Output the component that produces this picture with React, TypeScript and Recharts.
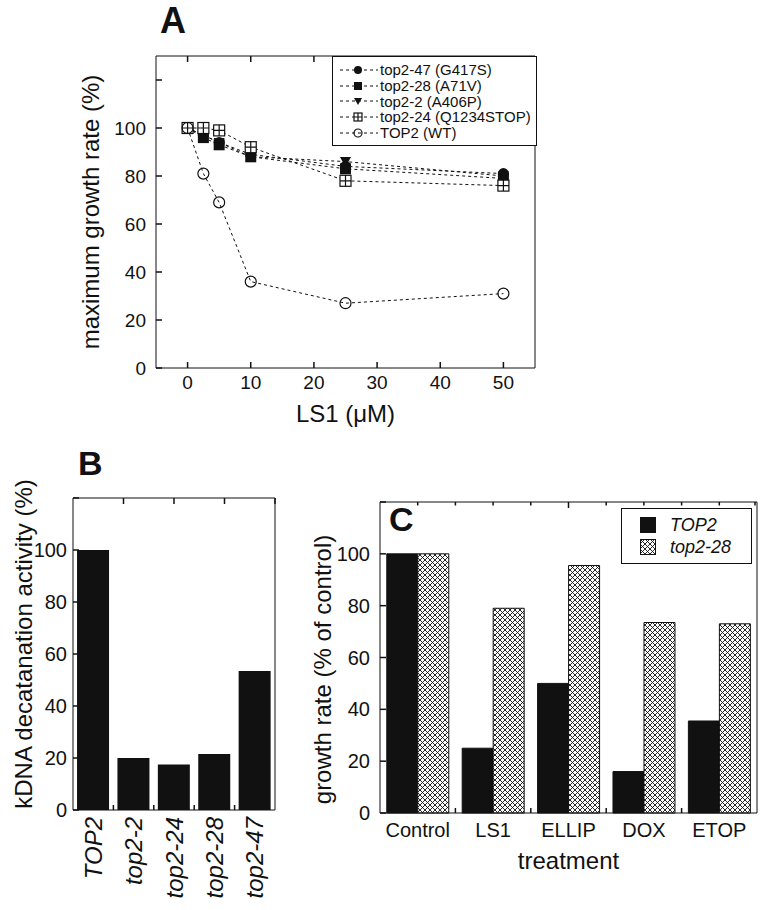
import React from 'react';
import { LineChart, Line, BarChart, Bar, XAxis, YAxis, Legend } from 'recharts';

const FONT = '"Liberation Sans", Arial, sans-serif';
const INK = '#111';

// panel A: growth vs LS1 concentration
const concentrations = [0, 2.5, 5, 10, 25, 50];
const top2_47 = [100, 97, 94, 89, 84, 81];
const top2_28 = [100, 96, 93, 88, 83, 79];
const top2_2 = [100, 97, 94, 88, 86, 80];
const top2_24 = [100, 100, 99, 92, 78, 76];
const top2_wt = [100, 81, 69, 36, 27, 31];
const concTicks = [0, 10, 20, 30, 40, 50];
const rateTicks = [0, 20, 40, 60, 80, 100, 120];

// panel B: decatenation activity
const strains = ['TOP2', 'top2-2', 'top2-24', 'top2-28', 'top2-47'];
const decatenation = [100, 20, 17.5, 21.5, 53.5];

// panel C: growth under drug treatment
const treatments = ['Control', 'LS1', 'ELLIP', 'DOX', 'ETOP'];
const growthTop2 = [100, 25, 50, 16, 35.5];
const growthTop2_28 = [100, 79, 95.5, 73.5, 73];
const percentTicks = [0, 20, 40, 60, 80, 100, 120];

// tick positions on the top frame of the bar panels (category boundaries / fifths)
const strainEdges = strains.slice(1).map((_, i) => i + 1);
const treatmentFifths = Array.from({ length: treatments.length * 5 - 1 }, (_, i) => (i + 1) / 5);

const dataA = concentrations.map((c, i) => ({
  conc: c,
  m47: top2_47[i],
  m28: top2_28[i],
  m2: top2_2[i],
  m24: top2_24[i],
  wt: top2_wt[i],
}));
const dataB = strains.map((s, i) => ({ strain: s, activity: decatenation[i] }));
const dataC = treatments.map((t, i) => ({ treatment: t, top2: growthTop2[i], top2_28: growthTop2_28[i] }));

type MarkerKind = 'disc' | 'square' | 'triangle' | 'boxplus' | 'ring';

const seriesA: { key: string; name: string; marker: MarkerKind }[] = [
  { key: 'm47', name: 'top2-47 (G417S)', marker: 'disc' },
  { key: 'm28', name: 'top2-28 (A71V)', marker: 'square' },
  { key: 'm2', name: 'top2-2 (A406P)', marker: 'triangle' },
  { key: 'm24', name: 'top2-24 (Q1234STOP)', marker: 'boxplus' },
  { key: 'wt', name: 'TOP2 (WT)', marker: 'ring' },
];

const Marker = ({ kind, cx, cy, s = 5.5 }: { kind: MarkerKind; cx: number; cy: number; s?: number }) => {
  switch (kind) {
    case 'disc':
      return <circle cx={cx} cy={cy} r={s} fill={INK} />;
    case 'square':
      return <rect x={cx - s} y={cy - s} width={2 * s} height={2 * s} fill={INK} />;
    case 'triangle':
      return <path d={`M${cx - s},${cy - s + 1} L${cx + s},${cy - s + 1} L${cx},${cy + s} Z`} fill={INK} />;
    case 'boxplus':
      return (
        <g stroke={INK} strokeWidth={1.2}>
          <rect x={cx - s} y={cy - s} width={2 * s} height={2 * s} fill="#fff" />
          <path d={`M${cx - s},${cy} H${cx + s} M${cx},${cy - s} V${cy + s}`} fill="none" />
        </g>
      );
    default:
      return <circle cx={cx} cy={cy} r={s} fill="none" stroke={INK} strokeWidth={1.2} />;
  }
};

// ticks point into the plot, like the original figure
const TICK = 6;
const TICK_W = 1.5;

const LeftTick = (props: any) => {
  const { x, y, payload, gap, fontPx, maxLabel } = props;
  return (
    <g>
      <line x1={x + gap} x2={x + gap + TICK} y1={y} y2={y} stroke={INK} strokeWidth={TICK_W} />
      {payload.value <= maxLabel && (
        <text x={x} y={y} textAnchor="end" dominantBaseline="central" fontSize={fontPx} fill={INK}>
          {payload.value}
        </text>
      )}
    </g>
  );
};

const RightTick = (props: any) => (
  <line x1={props.x} x2={props.x - TICK} y1={props.y} y2={props.y} stroke={INK} strokeWidth={TICK_W} />
);

const TopTick = (props: any) => {
  const len = Number.isInteger(props.payload.value) ? TICK : 3.5;
  return <line x1={props.x} x2={props.x} y1={props.y} y2={props.y + len} stroke={INK} strokeWidth={TICK_W} />;
};

const BottomTick = (props: any) => {
  const { x, y, payload, gap, fontPx } = props;
  return (
    <g>
      <line x1={x} x2={x} y1={y - gap} y2={y - gap - TICK} stroke={INK} strokeWidth={TICK_W} />
      <text x={x} y={y} dy="0.71em" textAnchor="middle" fontSize={fontPx} fill={INK}>
        {payload.value}
      </text>
    </g>
  );
};

// category label plus a short tick on the boundary to its right
const CategoryTick = (props: any) => {
  const { x, y, payload, index, visibleTicksCount, gap, fontPx, rotated } = props;
  const edge = payload.offset && index < visibleTicksCount - 1 ? x + payload.offset : null;
  return (
    <g>
      {edge !== null && <line x1={edge} x2={edge} y1={y - gap} y2={y - gap - 5} stroke={INK} strokeWidth={TICK_W} />}
      {rotated ? (
        <text x={x} y={y} transform={`rotate(-90 ${x} ${y})`} textAnchor="end" dominantBaseline="central" fontSize={fontPx} fontStyle="italic" fill={INK}>
          {payload.value}
        </text>
      ) : (
        <text x={x} y={y} dy="0.71em" textAnchor="middle" fontSize={fontPx} fill={INK}>
          {payload.value}
        </text>
      )}
    </g>
  );
};

// axis titles placed against the axis viewBox
const hTitle = (text: string, offset: number) => (props: any) => {
  const vb = props.viewBox;
  return (
    <text x={vb.x + vb.width / 2} y={vb.y + offset} textAnchor="middle" dominantBaseline="central" fontSize={24} fill={INK}>
      {text}
    </text>
  );
};
const vTitle = (text: string, x: number, dy = 0) => (props: any) => {
  const vb = props.viewBox;
  const y = vb.y + vb.height / 2 + dy;
  return (
    <text x={x} y={y} transform={`rotate(-90 ${x} ${y})`} textAnchor="middle" dominantBaseline="central" fontSize={24} fill={INK}>
      {text}
    </text>
  );
};

const LegendA = () => (
  <div style={{ border: `1px solid ${INK}`, background: '#fff', padding: '5px 6px', fontSize: 15, color: INK, fontFamily: FONT }}>
    {seriesA.map((s) => (
      <div key={s.key} style={{ display: 'flex', alignItems: 'center', height: 15.7, whiteSpace: 'nowrap' }}>
        <svg width={40} height={14} style={{ flex: 'none' }}>
          <line x1={1} y1={7} x2={39} y2={7} stroke={INK} strokeDasharray="3 3" />
          <Marker kind={s.marker} cx={19} cy={7} s={4} />
        </svg>
        <span style={{ marginLeft: 1 }}>{s.name}</span>
      </div>
    ))}
  </div>
);

const LegendC = (props: any) => (
  <div style={{ border: `1px solid ${INK}`, background: '#fff', boxSizing: 'border-box', height: 56, padding: '5px 0', fontSize: 18, fontStyle: 'italic', color: INK, fontFamily: FONT }}>
    {(props.payload || []).map((p: any) => (
      <div key={p.value} style={{ display: 'flex', alignItems: 'center', height: 22 }}>
        <svg width={16} height={16} style={{ marginLeft: 18, flex: 'none' }}>
          <rect x={0.5} y={0.5} width={15} height={15} fill={p.payload?.fill ?? p.color} stroke={INK} />
        </svg>
        <span style={{ marginLeft: 14 }}>{p.value}</span>
      </div>
    ))}
  </div>
);

const PanelA = () => (
  <LineChart width={560} height={430} data={dataA} margin={{ top: 55, right: 24, bottom: 0, left: 0 }}>
    <XAxis type="number" dataKey="conc" domain={[-5, 55]} ticks={concTicks} height={62} tickLine={false} tickSize={0} tickMargin={8} stroke={INK} tick={<BottomTick gap={8} fontPx={19} />} label={hTitle('LS1 (μM)', 45)} />
    <XAxis xAxisId="top" orientation="top" type="number" dataKey="conc" domain={[-5, 55]} ticks={concTicks} height={1} tickLine={false} tickSize={0} tickMargin={0} stroke={INK} tick={<TopTick />} />
    <YAxis type="number" domain={[0, 130]} ticks={rateTicks} width={156} tickLine={false} tickSize={0} tickMargin={10} stroke={INK} tick={<LeftTick gap={10} fontPx={19} maxLabel={100} />} label={vTitle('maximum growth rate (%)', 90)} />
    <YAxis yAxisId="right" orientation="right" type="number" domain={[0, 130]} ticks={rateTicks} width={1} tickLine={false} tickSize={0} tickMargin={0} stroke={INK} tick={<RightTick />} />
    <Legend layout="horizontal" verticalAlign="middle" align="center" content={LegendA} wrapperStyle={{ top: 56, right: 23, width: 205 }} />
    {seriesA.map((s) => (
      <Line
        key={s.key}
        type="linear"
        dataKey={s.key}
        name={s.name}
        stroke={INK}
        strokeWidth={1}
        strokeDasharray="3 3"
        isAnimationActive={false}
        dot={(p: any) => <Marker key={`${s.key}-${p.index}`} kind={s.marker} cx={p.cx} cy={p.cy} />}
      />
    ))}
  </LineChart>
);

const PanelB = () => (
  <BarChart width={300} height={470} data={dataB} margin={{ top: 57, right: 24, bottom: 0, left: 0 }} barCategoryGap="10%">
    <XAxis xAxisId="cat" dataKey="strain" height={100} interval={0} tickLine={false} tickSize={0} tickMargin={7} stroke={INK} tick={<CategoryTick gap={7} fontPx={24} rotated />} />
    <XAxis xAxisId="edge" orientation="top" type="number" domain={[0, strains.length]} ticks={strainEdges} allowDataOverflow height={1} tickLine={false} tickSize={0} tickMargin={0} stroke={INK} tick={<TopTick />} />
    <YAxis type="number" domain={[0, 120]} ticks={percentTicks} width={73} tickLine={false} tickSize={0} tickMargin={6} stroke={INK} tick={<LeftTick gap={6} fontPx={20} maxLabel={100} />} label={vTitle('kDNA decatanation activity (%)', 23, -10)} />
    <YAxis yAxisId="right" orientation="right" type="number" domain={[0, 120]} ticks={percentTicks} width={1} tickLine={false} tickSize={0} tickMargin={0} stroke={INK} tick={<RightTick />} />
    <Bar xAxisId="cat" dataKey="activity" fill={INK} isAnimationActive={false} />
  </BarChart>
);

const PanelC = () => (
  <BarChart width={465} height={470} data={dataC} margin={{ top: 61, right: 7, bottom: 0, left: 0 }} barCategoryGap="9%" barGap={0}>
    <defs>
      <pattern id="crosshatch" width={5} height={5} patternUnits="userSpaceOnUse">
        <rect width={5} height={5} fill="#fff" />
        <path d="M0,0 L5,5 M5,0 L0,5" stroke={INK} strokeWidth={0.9} />
      </pattern>
    </defs>
    <XAxis xAxisId="cat" dataKey="treatment" height={97} interval={0} tickLine={false} tickSize={0} tickMargin={10} stroke={INK} tick={<CategoryTick gap={10} fontPx={20} />} label={hTitle('treatment', 47)} />
    <XAxis xAxisId="edge" orientation="top" type="number" domain={[0, treatments.length]} ticks={treatmentFifths} allowDataOverflow height={1} tickLine={false} tickSize={0} tickMargin={0} stroke={INK} tick={<TopTick />} />
    <YAxis type="number" domain={[0, 120]} ticks={percentTicks} width={80} tickLine={false} tickSize={0} tickMargin={10} stroke={INK} tick={<LeftTick gap={10} fontPx={20} maxLabel={100} />} label={vTitle('growth rate (% of control)', 22, 12)} />
    <YAxis yAxisId="right" orientation="right" type="number" domain={[0, 120]} ticks={percentTicks} width={1} tickLine={false} tickSize={0} tickMargin={0} stroke={INK} tick={<RightTick />} />
    <Legend layout="horizontal" verticalAlign="middle" align="center" content={LegendC} wrapperStyle={{ top: 68, right: 13, width: 131 }} />
    <Bar xAxisId="cat" dataKey="top2" name="TOP2" fill={INK} stroke={INK} isAnimationActive={false} />
    <Bar xAxisId="cat" dataKey="top2_28" name="top2-28" fill="url(#crosshatch)" stroke={INK} isAnimationActive={false} />
  </BarChart>
);

export default function App() {
  return (
    <div style={{ position: 'absolute', left: 0, top: 0, width: 765, height: 910, background: '#fff', fontFamily: FONT, color: INK }}>
      <div style={{ position: 'absolute', left: 0, top: 0 }}>
        <PanelA />
      </div>
      <div style={{ position: 'absolute', left: 0, top: 440 }}>
        <PanelB />
      </div>
      <div style={{ position: 'absolute', left: 300, top: 440 }}>
        <PanelC />
      </div>
      <svg width={765} height={910} style={{ position: 'absolute', left: 0, top: 0, pointerEvents: 'none' }}>
        <g fontFamily={FONT} fontWeight="bold" fill={INK}>
          <text x={160} y={33} fontSize={36}>A</text>
          <text x={78} y={475} fontSize={34}>B</text>
          <text x={389} y={531} fontSize={34}>C</text>
        </g>
      </svg>
    </div>
  );
}
